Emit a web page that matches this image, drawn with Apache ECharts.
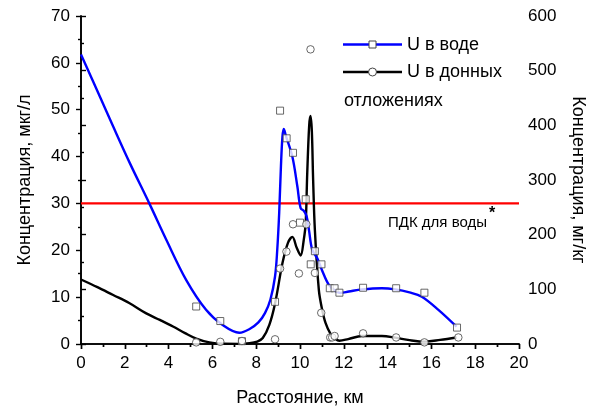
<!DOCTYPE html>
<html>
<head>
<meta charset="utf-8">
<script src="https://cdn.jsdelivr.net/npm/echarts@6/dist/echarts.min.js"></script>
<style>html,body{margin:0;padding:0;background:#fff}#c{width:595px;height:412px}</style>
</head>
<body>
<div id="c"></div>
<script>
// ---- data ----
const xRange = [0, 20];
const pdkWater = 30; // ПДК для воды, мкг/л

// U в воде: measured points (мкг/л)
const waterPoints = [
  [5.26, 8.0], [6.36, 4.9], [7.35, 0.6], [8.86, 9.0], [9.09, 49.8], [9.39, 43.9],
  [9.68, 40.8], [10.0, 25.9], [10.26, 30.9], [10.49, 17.0], [10.68, 19.8], [10.98, 17.0],
  [11.36, 11.9], [11.58, 11.9], [11.8, 10.95], [12.88, 12.0], [14.39, 11.9], [15.68, 10.95],
  [17.17, 3.5]
];
// U в воде: fitted curve
const waterCurve = [
  [0, 61.8], [0.86, 52.8], [1.47, 46.4], [2.23, 38.6], [3.14, 29.8], [3.9, 22.2],
  [4.8, 13.7], [5.71, 7.3], [6.47, 4.05], [7.23, 2.4], [7.7, 3.2], [8.1, 4.6],
  [8.4, 6.6], [8.65, 9.5], [8.86, 14.4], [8.96, 20], [9.05, 28], [9.13, 38],
  [9.2, 44.3], [9.26, 45.9], [9.35, 44.5], [9.65, 40], [9.88, 33.6], [10.03, 29],
  [10.18, 28.4], [10.3, 27.3], [10.41, 24.3], [10.56, 20.1], [10.79, 18.3], [11.0, 15.8],
  [11.32, 12.6], [11.62, 11.3], [11.85, 10.9], [12.23, 11.2], [12.83, 11.65], [13.74, 11.9],
  [14.35, 11.65], [15.0, 11.0], [15.56, 10.1], [16.32, 7.3], [17.15, 3.7]
];
// U в донных отложениях: measured points (мг/кг)
const sedimentPoints = [
  [5.26, 3], [6.36, 4], [7.35, 5.5], [8.86, 8.6], [9.09, 138], [9.38, 169],
  [9.68, 219], [9.95, 129], [10.29, 219], [10.48, 539], [10.68, 130], [10.97, 57],
  [11.38, 12], [11.47, 12], [11.58, 14.6], [12.88, 19.5], [14.39, 12], [15.68, 3],
  [17.23, 12]
];
// U в донных отложениях: fitted curve
const sedimentCurve = [
  [0, 118], [0.75, 104], [1.47, 89.6], [2.2, 75], [2.98, 56], [3.6, 44], [4.2, 32],
  [4.75, 20], [5.26, 10], [5.86, 3], [6.5, 0.5], [7.2, 0.3], [7.7, 1.5], [8.05, 4.5],
  [8.3, 11], [8.6, 35], [8.86, 74], [9.2, 148], [9.45, 185], [9.65, 196], [9.85, 176],
  [10.03, 162], [10.17, 190], [10.26, 221], [10.33, 312], [10.42, 400], [10.48, 417],
  [10.54, 390], [10.6, 300], [10.68, 208], [10.86, 99], [11.0, 65], [11.17, 38],
  [11.4, 18], [11.62, 9], [11.8, 6], [12.2, 9], [12.83, 14.6], [13.74, 14.6],
  [14.35, 11.6], [15.0, 7], [15.71, 4.3], [16.4, 7.5], [17.15, 12]
];
const legendWater = 'U в воде';
const legendSediment1 = 'U в донных';
const legendSediment2 = 'отложениях';
const pdkLabel = 'ПДК для воды';

// ---- chart ----
const FONT = "'Liberation Sans', Arial, sans-serif";
const chart = echarts.init(document.getElementById('c'), null, {renderer: 'canvas'});
const axisLine = {show: true, lineStyle: {color: '#000', width: 1.6}};
const tickStyle = {color: '#000', width: 1.4};

function baseY(extra) {
  return Object.assign({
    type: 'value',
    axisLine: axisLine,
    axisTick: {show: true, inside: false, length: 5, lineStyle: tickStyle},
    minorTick: {show: true, splitNumber: 2, length: 3, lineStyle: tickStyle},
    splitLine: {show: false},
    minorSplitLine: {show: false},
    axisLabel: {color: '#000', fontSize: 17, fontFamily: FONT, margin: 10},
    nameLocation: 'middle',
    nameTextStyle: {color: '#000', fontSize: 18, fontFamily: FONT}
  }, extra);
}

chart.setOption({
  animation: false,
  backgroundColor: '#fff',
  grid: {left: 81, right: 74, top: 16, bottom: 68, containLabel: false},
  xAxis: [
    {
      type: 'value', position: 'bottom', min: xRange[0], max: xRange[1], interval: 2,
      axisLine: axisLine,
      axisTick: {show: true, inside: false, length: 5, lineStyle: tickStyle},
      minorTick: {show: true, splitNumber: 2, length: 3, lineStyle: tickStyle},
      splitLine: {show: false},
      axisLabel: {color: '#000', fontSize: 17, fontFamily: FONT, margin: 11},
      name: 'Расстояние, км', nameLocation: 'middle', nameGap: 45,
      nameTextStyle: {color: '#000', fontSize: 18, fontFamily: FONT}
    },
    {
      type: 'value', position: 'top', min: xRange[0], max: xRange[1], interval: 2,
      axisLine: axisLine,
      axisTick: {show: true, inside: true, length: 5, lineStyle: tickStyle},
      minorTick: {show: true, splitNumber: 2, length: 3, lineStyle: tickStyle},
      splitLine: {show: false},
      axisLabel: {show: false}
    }
  ],
  yAxis: [
    baseY({position: 'left', min: 0, max: 70, interval: 10,
      axisLabel: {color: '#000', fontSize: 17, fontFamily: FONT, margin: 11},
      name: 'Концентрация, мкг/л', nameGap: 47}),
    baseY({position: 'right', min: 0, max: 600, interval: 100,
      axisLabel: {color: '#000', fontSize: 17, fontFamily: FONT, margin: 9},
      name: 'Концентрация, мг/кг', nameGap: 50, nameRotate: -90})
  ],
  series: [
    {
      name: pdkLabel, type: 'line', xAxisIndex: 0, yAxisIndex: 0,
      data: [[xRange[0], pdkWater], [xRange[1], pdkWater]],
      showSymbol: false, symbol: 'none', silent: true,
      lineStyle: {color: '#ff0000', width: 2.2}, z: 2
    },
    {
      name: legendSediment1 + ' ' + legendSediment2 + ' (кривая)', type: 'line', xAxisIndex: 0, yAxisIndex: 1,
      data: sedimentCurve, smooth: 0.35, showSymbol: false, symbol: 'none',
      lineStyle: {color: '#000', width: 2.4}, z: 3
    },
    {
      name: legendWater + ' (кривая)', type: 'line', xAxisIndex: 0, yAxisIndex: 0,
      data: waterCurve, smooth: 0.35, showSymbol: false, symbol: 'none',
      lineStyle: {color: '#0000ff', width: 2.4}, z: 4
    },
    {
      name: legendWater, type: 'scatter', xAxisIndex: 0, yAxisIndex: 0,
      data: waterPoints, symbol: 'rect', symbolSize: 7,
      itemStyle: {color: '#fff', borderColor: '#444', borderWidth: 1}, z: 5
    },
    {
      name: legendSediment1 + ' ' + legendSediment2, type: 'scatter', xAxisIndex: 0, yAxisIndex: 1,
      data: sedimentPoints, symbol: 'circle', symbolSize: 7.5,
      itemStyle: {color: '#fff', borderColor: '#444', borderWidth: 1}, z: 5
    }
  ],
  graphic: [
    {type: 'line', shape: {x1: 343, y1: 44.5, x2: 402, y2: 44.5}, style: {stroke: '#0000ff', lineWidth: 2.4}, z: 10},
    {type: 'rect', shape: {x: 369, y: 41, width: 7, height: 7}, style: {fill: '#fff', stroke: '#444', lineWidth: 1}, z: 11},
    {type: 'text', x: 407, y: 45, style: {text: legendWater, fontSize: 18, fontFamily: FONT, fill: '#000', verticalAlign: 'middle'}, z: 10},
    {type: 'line', shape: {x1: 343, y1: 72, x2: 402, y2: 72}, style: {stroke: '#000', lineWidth: 2.4}, z: 10},
    {type: 'circle', shape: {cx: 372.5, cy: 72, r: 4}, style: {fill: '#fff', stroke: '#444', lineWidth: 1}, z: 11},
    {type: 'text', x: 407, y: 72, style: {text: legendSediment1, fontSize: 18, fontFamily: FONT, fill: '#000', verticalAlign: 'middle'}, z: 10},
    {type: 'text', x: 344, y: 101, style: {text: legendSediment2, fontSize: 18, fontFamily: FONT, fill: '#000', verticalAlign: 'middle'}, z: 10},
    {type: 'text', x: 487, y: 223, style: {text: pdkLabel, fontSize: 15, fontFamily: FONT, fill: '#000', align: 'right', verticalAlign: 'middle'}, z: 10},
    {type: 'text', x: 489, y: 214, style: {text: '*', fontSize: 16, fontWeight: 'bold', fontFamily: FONT, fill: '#000', align: 'left', verticalAlign: 'middle'}, z: 10}
  ]
});
</script>
</body>
</html>
